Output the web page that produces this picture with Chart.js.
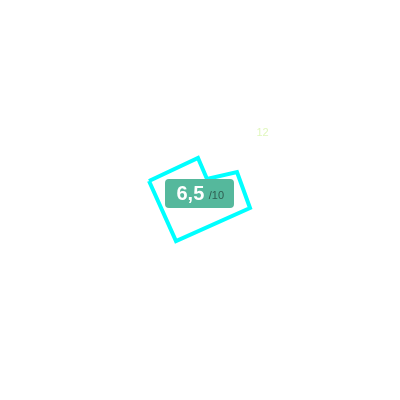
<!DOCTYPE html>
<html>
<head>
<meta charset="utf-8">
<script src="https://cdn.jsdelivr.net/npm/chart.js@4"></script>
<style>
html,body{margin:0;padding:0;background:#fff;}
#wrap{width:400px;height:400px;position:relative;}
</style>
</head>
<body>
<div id="wrap"><canvas id="c" width="400" height="400"></canvas></div>
<script>
// Outline vertices (data units)
const xValues = [149, 198, 207, 237, 250, 176, 149];
const yValues = [181, 158, 179, 172, 208, 241, 181];
// Score badge
const scoreValue = "6,5";
const scoreMax = "/10";
const cornerLabel = "12";

const points = xValues.map((x, i) => ({ x: x, y: yValues[i] }));

const badgePlugin = {
  id: 'badge',
  afterDraw(chart) {
    const ctx = chart.ctx;
    ctx.save();
    // corner label
    ctx.fillStyle = '#e0f7bd';
    ctx.font = '11px "Liberation Sans", Arial, sans-serif';
    ctx.textBaseline = 'alphabetic';
    ctx.fillText(cornerLabel, 256.5, 136);
    // badge
    const bx = 165, by = 179, bw = 69, bh = 29, r = 4;
    ctx.fillStyle = '#55b89c';
    ctx.beginPath();
    ctx.roundRect(bx, by, bw, bh, r);
    ctx.fill();
    ctx.fillStyle = '#ffffff';
    ctx.font = 'bold 20px "Liberation Sans", Arial, sans-serif';
    ctx.fillText(scoreValue, 176.5, 199.5);
    const w = ctx.measureText(scoreValue).width;
    ctx.fillStyle = '#2f5d51';
    ctx.font = '11px "Liberation Sans", Arial, sans-serif';
    ctx.fillText(scoreMax, 176.5 + w + 4.5, 199);
    ctx.restore();
  }
};

new Chart(document.getElementById('c'), {
  type: 'scatter',
  data: {
    datasets: [{
      data: points,
      showLine: true,
      borderColor: '#00ffff',
      borderWidth: 4,
      borderJoinStyle: 'miter',
      pointRadius: 0,
      fill: false,
      tension: 0
    }]
  },
  options: {
    responsive: false,
    animation: false,
    devicePixelRatio: 1,
    layout: { padding: 0 },
    plugins: { legend: { display: false }, tooltip: { enabled: false } },
    scales: {
      x: { type: 'linear', min: 0, max: 400, display: false },
      y: { type: 'linear', min: 0, max: 400, reverse: true, display: false }
    }
  },
  plugins: [badgePlugin]
});
</script>
</body>
</html>
